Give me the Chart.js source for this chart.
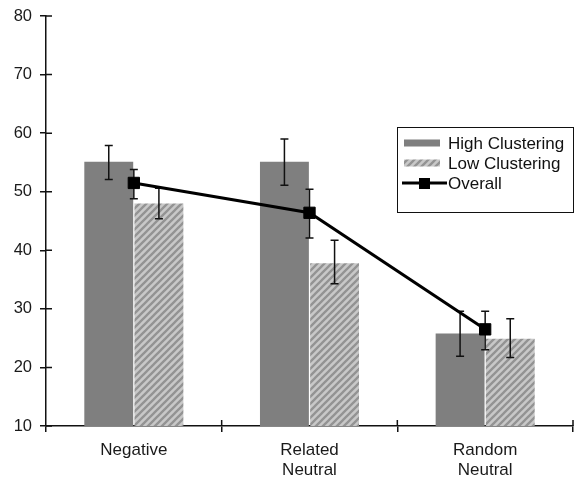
<!DOCTYPE html>
<html>
<head>
<meta charset="utf-8">
<script src="https://cdn.jsdelivr.net/npm/chart.js@4/dist/chart.umd.min.js"></script>
<style>
  html, body { margin: 0; padding: 0; background: #fff; }
  #wrap { width: 578px; height: 483px; }
</style>
</head>
<body>
<div id="wrap"><canvas id="myChart" width="578" height="483"></canvas></div>
<script>
// datos
const categorias = [['Negative'], ['Related', 'Neutral'], ['Random', 'Neutral']];
const highClustering = [55.1, 55.1, 25.8];
const highErrLo = [52.1, 51.1, 21.9];
const highErrHi = [57.9, 59.0, 29.6];
const lowClustering = [48.0, 37.8, 24.9];
const lowErrLo = [45.4, 34.3, 21.7];
const lowErrHi = [50.6, 41.7, 28.3];
const overall = [51.5, 46.4, 26.5];
const overallErrLo = [48.8, 42.1, 23.0];
const overallErrHi = [53.8, 50.4, 29.6];
const yTicks = [10, 20, 30, 40, 50, 60, 70, 80];

const fuente = '"Liberation Sans", Arial, sans-serif';

// patron rayado para "Low Clustering"
function crearRayado() {
    const s = 7;
    const c = document.createElement('canvas');
    c.width = s; c.height = s;
    const g = c.getContext('2d');
    g.fillStyle = '#c8c8c8';
    g.fillRect(0, 0, s, s);
    g.strokeStyle = '#939393';
    g.lineWidth = 2.3;
    g.beginPath();
    g.moveTo(0, s); g.lineTo(s, 0);
    g.moveTo(-1, 1); g.lineTo(1, -1);
    g.moveTo(s - 1, s + 1); g.lineTo(s + 1, s - 1);
    g.stroke();
    return g.createPattern(c, 'repeat');
}
const ctx = document.getElementById('myChart').getContext('2d');
const rayado = crearRayado();

const errores = [
    { lo: highErrLo, hi: highErrHi },
    { lo: lowErrLo, hi: lowErrHi },
    { lo: overallErrLo, hi: overallErrHi }
];

function dibujarError(chart, i) {
    const meta = chart.getDatasetMeta(i);
    const y = chart.scales.y;
    const c = chart.ctx;
    c.save();
    c.strokeStyle = '#111';
    c.lineWidth = 1.5;
    meta.data.forEach(function (el, j) {
        const x = el.x;
        const y1 = y.getPixelForValue(errores[i].lo[j]);
        const y2 = y.getPixelForValue(errores[i].hi[j]);
        c.beginPath();
        c.moveTo(x, y1); c.lineTo(x, y2);
        c.moveTo(x - 4, y1); c.lineTo(x + 4, y1);
        c.moveTo(x - 4, y2); c.lineTo(x + 4, y2);
        c.stroke();
    });
    c.restore();
}

const pluginErrores = {
    id: 'errores',
    afterDatasetDraw(chart, args) {
        if (args.index === 0 || args.index === 1) dibujarError(chart, args.index);
    },
    beforeDatasetDraw(chart, args) {
        if (args.index === 2) dibujarError(chart, 2);
    }
};

// marcas que cruzan los ejes
const pluginMarcas = {
    id: 'marcas',
    afterDraw(chart) {
        const c = chart.ctx;
        const a = chart.chartArea;
        c.save();
        c.strokeStyle = '#111';
        c.lineWidth = 1.5;
        c.beginPath();
        chart.scales.y.ticks.forEach(function (t, k) {
            const py = chart.scales.y.getPixelForTick(k);
            c.moveTo(a.left, py); c.lineTo(a.left + 6, py);
        });
        const n = chart.data.labels.length;
        const w = (a.right - a.left) / n;
        for (let k = 1; k <= n; k++) {
            const px = a.left + w * k;
            c.moveTo(px, a.bottom); c.lineTo(px, a.bottom - 6);
        }
        c.stroke();
        c.restore();
    }
};

// leyenda con marco dentro del area
const pluginLeyenda = {
    id: 'leyendaCaja',
    afterDraw(chart) {
        const c = chart.ctx;
        const a = chart.chartArea;
        const x0 = a.right - 176, y0 = a.top + 111, w = 176, h = 85;
        c.save();
        c.fillStyle = '#fff';
        c.fillRect(x0, y0, w, h);
        c.strokeStyle = '#111';
        c.lineWidth = 1;
        c.strokeRect(x0 + 0.5, y0 + 0.5, w, h);
        c.font = '17px ' + fuente;
        c.textBaseline = 'middle';
        chart.data.datasets.forEach(function (ds, i) {
            const cy = y0 + 16 + i * 20;
            if (ds.type === 'line') {
                c.strokeStyle = '#000';
                c.lineWidth = 3;
                c.beginPath();
                c.moveTo(x0 + 5, cy); c.lineTo(x0 + 50, cy);
                c.stroke();
                c.fillStyle = '#000';
                c.fillRect(x0 + 22, cy - 5, 11, 11);
            } else {
                c.fillStyle = ds.backgroundColor;
                c.fillRect(x0 + 7, cy - 3.5, 36, 7);
            }
            c.fillStyle = '#111';
            c.fillText(ds.label, x0 + 51, cy + 1);
        });
        c.restore();
    }
};

new Chart(ctx, {
    data: {
        labels: categorias,
        datasets: [
            {
                type: 'bar',
                label: 'High Clustering',
                data: highClustering,
                backgroundColor: '#7f7f7f',
                borderWidth: 0,
                categoryPercentage: 0.571,
                barPercentage: 0.975,
                order: 1
            },
            {
                type: 'bar',
                label: 'Low Clustering',
                data: lowClustering,
                backgroundColor: rayado,
                borderWidth: 0,
                categoryPercentage: 0.571,
                barPercentage: 0.975,
                order: 1
            },
            {
                type: 'line',
                label: 'Overall',
                data: overall,
                borderColor: '#000',
                borderWidth: 3,
                pointStyle: 'rect',
                pointRadius: 8,
                pointBackgroundColor: '#000',
                pointBorderColor: '#000',
                pointBorderWidth: 1,
                tension: 0,
                order: 0
            }
        ]
    },
    options: {
        responsive: false,
        animation: false,
        events: [],
        // sin autoPadding, si no el ultimo punto de la linea agrega margen a la derecha
        layout: { autoPadding: false, padding: { top: 16, right: 5, bottom: 0, left: 0 } },
        plugins: {
            legend: { display: false },
            tooltip: { enabled: false }
        },
        scales: {
            x: {
                offset: true,
                grid: { display: true, drawOnChartArea: false, offset: true, tickLength: 6, color: '#111', lineWidth: 1.5 },
                border: { display: true, color: '#111', width: 1.5 },
                ticks: { color: '#1a1a1a', font: { family: fuente, size: 17, lineHeight: 1.2 }, padding: 8, maxRotation: 0 },
                afterFit: function (s) { s.height = 57; s.paddingLeft = 0; s.paddingRight = 0; }
            },
            y: {
                min: 10,
                max: 80,
                afterBuildTicks: function (s) { s.ticks = yTicks.map(function (v) { return { value: v }; }); },
                grid: { display: true, drawOnChartArea: false, tickLength: 6, color: '#111', lineWidth: 1.5 },
                border: { display: true, color: '#111', width: 1.5 },
                ticks: { color: '#1a1a1a', font: { family: fuente, size: 16.5 }, padding: 8 },
                afterFit: function (s) { s.width = 46; s.paddingTop = 0; s.paddingBottom = 0; }
            }
        }
    },
    plugins: [pluginErrores, pluginMarcas, pluginLeyenda]
});
</script>
</body>
</html>
